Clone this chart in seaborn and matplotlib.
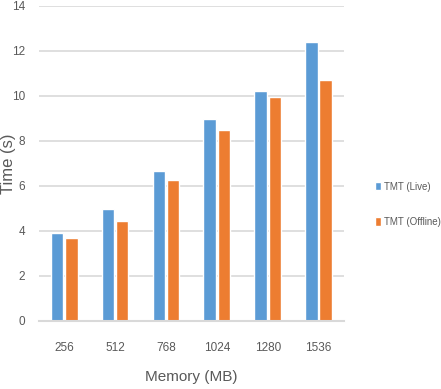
import pandas as pd
import seaborn as sns
import matplotlib.pyplot as plt
from matplotlib import font_manager

# Datos
memoria = ["256", "512", "768", "1024", "1280", "1536"]
tmt_live = [3.9, 4.98, 6.67, 8.95, 10.2, 12.4]
tmt_offline = [3.68, 4.42, 6.24, 8.5, 9.97, 10.72]
series = ["TMT (Live)", "TMT (Offline)"]

df = pd.DataFrame({
    "Memory": memoria * 2,
    "Time": tmt_live + tmt_offline,
    "Serie": [series[0]] * len(memoria) + [series[1]] * len(memoria),
})

sns.set_style("white")
nombres = {f.name for f in font_manager.fontManager.ttflist}
fuente = "DejaVu Sans Condensed" if "DejaVu Sans Condensed" in nombres else "Liberation Sans"
plt.rcParams["font.family"] = [fuente, "DejaVu Sans"]

fig = plt.figure(figsize=(4.41, 3.89), dpi=100)
ax = fig.add_axes([0.088, 0.175, 0.692, 0.81])

sns.barplot(data=df, x="Memory", y="Time", hue="Serie", order=memoria,
            palette=["#5B9BD5", "#ED7D31"], width=0.56, gap=0.12,
            saturation=1, ax=ax, legend=True)

ax.set_ylim(0, 14)
ax.set_yticks(range(0, 15, 2))
ax.set_xlim(-0.5, 5.5)
ax.yaxis.grid(True, color="#D9D9D9", lw=1.2)
ax.set_axisbelow(True)
for s in ["top", "right", "left"]:
    ax.spines[s].set_visible(False)
ax.spines["bottom"].set_color("#D9D9D9")
ax.spines["bottom"].set_linewidth(1.5)
ax.tick_params(axis="both", length=0, colors="#595959", labelsize=8.5)
ax.tick_params(axis="x", pad=15)
ax.tick_params(axis="y", pad=10)

ax.set_xlabel("Memory (MB)", fontsize=11, color="#595959", labelpad=12)
ax.set_ylabel("Time (s)", fontsize=12, color="#595959")
ax.yaxis.set_label_coords(-0.075, 0.5)

handles, labels = ax.get_legend_handles_labels()
ax.get_legend().remove()
fig.legend(handles, labels, loc="center left", bbox_to_anchor=(0.83, 0.475),
           frameon=False, fontsize=7, labelcolor="#595959", handlelength=0.6,
           handleheight=0.9, handletextpad=0.3, labelspacing=2.6)

fig.savefig("out.png", dpi=100)
